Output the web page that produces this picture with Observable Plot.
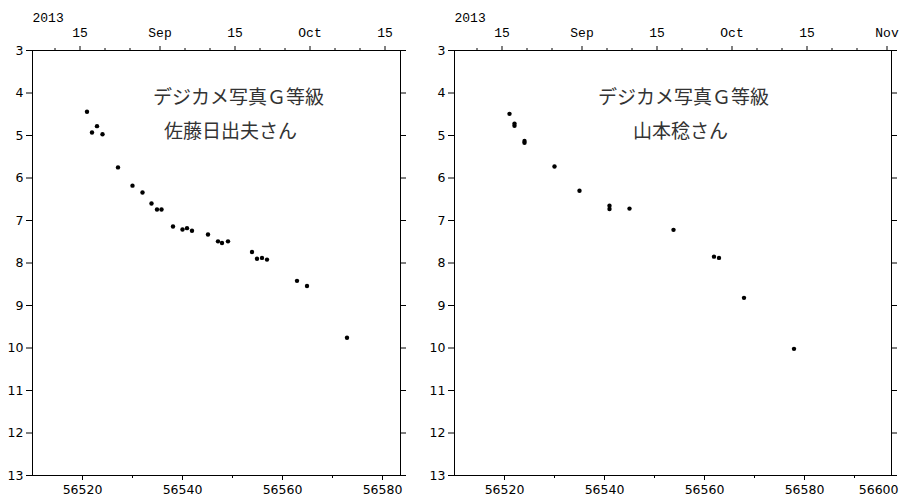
<!DOCTYPE html>
<html>
<head>
<meta charset="utf-8">
<script src="https://cdn.jsdelivr.net/npm/d3@7"></script>
<script src="https://cdn.jsdelivr.net/npm/@observablehq/plot@0.6"></script>
<style>
  html, body { margin: 0; padding: 0; background: #fff; overflow: hidden; }
  #wrap { position: relative; width: 899px; height: 497px; overflow: hidden; }
  #wrap svg { position: absolute; top: 0; max-width: none; overflow: visible; }
</style>
</head>
<body>
<div id="wrap"></div>
<script>
// Comet magnitude estimates from digital-camera photometry (G band), 2013
const satoMJD = [56520.9, 56521.9, 56522.9, 56524.0, 56527.1, 56530.0, 56532.0, 56533.8, 56534.9, 56535.8,
                 56538.1, 56540.0, 56540.9, 56541.9, 56545.1, 56547.1, 56547.9, 56549.1, 56553.9, 56554.9,
                 56555.9, 56556.9, 56562.9, 56564.9, 56572.9];
const satoMag = [4.44, 4.93, 4.78, 4.97, 5.75, 6.18, 6.34, 6.60, 6.74, 6.74,
                 7.14, 7.21, 7.18, 7.24, 7.33, 7.49, 7.53, 7.49, 7.74, 7.90,
                 7.88, 7.92, 8.42, 8.54, 9.76];

const yamaMJD = [56521.0, 56522.0, 56522.0, 56524.0, 56524.0, 56530.0, 56535.0, 56541.0, 56541.0,
                 56545.0, 56553.8, 56561.9, 56562.9, 56567.9, 56577.9];
const yamaMag = [4.49, 4.72, 4.77, 5.13, 5.17, 5.73, 6.30, 6.65, 6.73,
                 6.72, 7.22, 7.85, 7.88, 8.82, 10.02];

// Text
const titleText = "デジカメ写真Ｇ等級";
const observerSato = "佐藤日出夫さん";
const observerYama = "山本稔さん";
const yearLabel = "2013";

// Axis ticks
const magTicks = [3, 4, 5, 6, 7, 8, 9, 10, 11, 12, 13];
const mjdMajor = [56520, 56540, 56560, 56580, 56600];
const mjdMinor = [56530, 56550, 56570, 56590];
const dateTickMJD = [56514.5, 56519.5, 56524.5, 56529.5, 56535.5, 56540.5, 56545.5, 56550.5, 56555.5,
                     56560.5, 56565.5, 56570.5, 56575.5, 56580.5, 56585.5, 56590.5, 56596.5];
const dateTickLabel = ["", "15", "", "", "Sep", "", "", "15", "", "", "Oct", "", "", "15", "", "", "Nov"];

function panel({mjd, mag, observer, xMax, left, width, marginLeft, marginRight, titleDx, nameDx}) {
  const xDomain = [56510, xMax];
  const inDom = (v) => v >= xDomain[0] && v <= xDomain[1];
  const points = mjd.map((d, i) => ({mjd: d, mag: mag[i]}));
  const dates = dateTickMJD.map((v, i) => ({v, label: dateTickLabel[i]})).filter((d) => inDom(d.v));
  const dateMajor = dates.filter((d) => d.label !== "");
  const dateMinor = dates.filter((d) => d.label === "");
  // a major MJD tick that lands just past the right edge keeps its label, pulled inside the corner
  const edgeMajor = mjdMajor.filter((v) => v > xMax && v - xMax < 5);
  const mono = "Liberation Mono, DejaVu Sans Mono, monospace";

  const svg = Plot.plot({
    width,
    height: 497,
    marginTop: 50,
    marginBottom: 22,
    marginLeft,
    marginRight,
    x: {domain: xDomain},
    y: {domain: [3, 13], reverse: true},
    style: {fontFamily: "DejaVu Sans, sans-serif", fontSize: "12px", color: "black", background: "white"},
    marks: [
      Plot.frame({stroke: "black"}),
      // magnitude axes: labelled on the left, ticks only on the right
      Plot.axisY(magTicks, {anchor: "left", tickSize: 6, tickPadding: 3, label: null, fontSize: 12.5}),
      Plot.axisY(magTicks, {anchor: "right", tickSize: 5, tickFormat: () => "", label: null}),
      // MJD axis along the bottom
      Plot.axisX(mjdMajor.filter(inDom), {anchor: "bottom", tickSize: 5, tickPadding: 5,
        tickFormat: (d) => String(d), label: null, fontSize: 12.5}),
      Plot.axisX(mjdMinor.filter(inDom), {anchor: "bottom", tickSize: 3, tickFormat: () => "", label: null}),
      Plot.text(edgeMajor, {frameAnchor: "bottom-right", dx: 7, dy: 14, textAnchor: "end",
        lineAnchor: "middle", text: (d) => String(d), fontSize: 12.5, fill: "black"}),
      // calendar axis along the top
      Plot.axisX(dateMajor.map((d) => d.v), {anchor: "top", tickSize: 5, tickPadding: 9,
        tickFormat: (v) => dateMajor.find((d) => d.v === v).label, label: null,
        fontFamily: mono, fontSize: 13}),
      Plot.axisX(dateMinor.map((d) => d.v), {anchor: "top", tickSize: 3, tickFormat: () => "", label: null}),
      Plot.text([yearLabel], {frameAnchor: "top-left", dy: -29, textAnchor: "start", lineAnchor: "bottom",
        fontFamily: mono, fontSize: 13, fill: "black"}),
      // observations
      Plot.dot(points, {x: "mjd", y: "mag", r: 2.2, fill: "black"}),
      // annotation
      Plot.text([titleText], {frameAnchor: "top-left", dx: titleDx, dy: 47, textAnchor: "middle",
        lineAnchor: "middle", fontFamily: "Noto Sans CJK JP", fontSize: 19, fill: "#333"}),
      Plot.text([observer], {frameAnchor: "top-left", dx: nameDx, dy: 81, textAnchor: "middle",
        lineAnchor: "middle", fontFamily: "Noto Sans CJK JP", fontSize: 19, fill: "#333"})
    ]
  });
  svg.style.left = left + "px";
  document.getElementById("wrap").appendChild(svg);
}

panel({mjd: satoMJD, mag: satoMag, observer: observerSato, xMax: 56583.6,
       left: 0, width: 420, marginLeft: 32, marginRight: 20, titleDx: 206, nameDx: 198});
panel({mjd: yamaMJD, mag: yamaMag, observer: observerYama, xMax: 56597.4,
       left: 420, width: 479, marginLeft: 34, marginRight: 8, titleDx: 229, nameDx: 226});
</script>
</body>
</html>
